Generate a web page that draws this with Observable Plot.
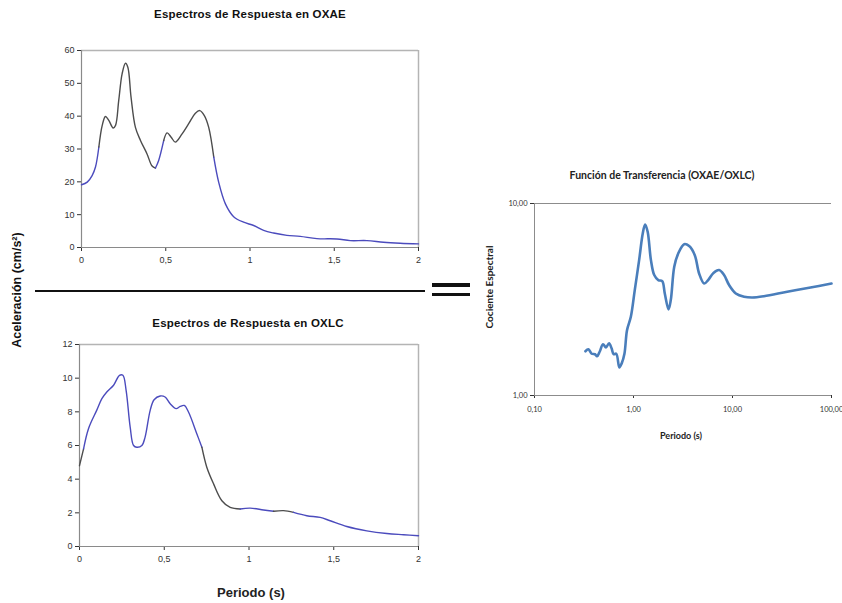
<!DOCTYPE html>
<html>
<head>
<meta charset="utf-8">
<script src="https://cdn.jsdelivr.net/npm/d3@7"></script>
<script src="https://cdn.jsdelivr.net/npm/@observablehq/plot@0.6"></script>
<style>
  html, body { margin: 0; padding: 0; background: #fff; }
  #page { position: relative; width: 842px; height: 603px; overflow: hidden; background: #fff; font-family: "Liberation Sans", Arial, sans-serif; }
  .abs { position: absolute; }
  .t12 { font-weight: bold; font-size: 11.5px; letter-spacing: 0.2px; color: #111; white-space: nowrap; transform: translateX(-50%); }
  .t3 { font-family: Lato, "Open Sans", sans-serif; font-weight: bold; font-size: 10.5px; color: #222; white-space: nowrap; transform: translateX(-50%); }
  .rot { white-space: nowrap; transform: translate(-50%, -50%) rotate(-90deg); }
  svg { overflow: visible; }
</style>
</head>
<body>
<div id="page"></div>
<script>
// ---------- data ----------
// Espectros de Respuesta en OXAE: periodo (s), aceleración (cm/s²)
const oxaePeriod = [0, 0.034, 0.063, 0.083, 0.103, 0.123, 0.142, 0.162, 0.188, 0.202, 0.221, 0.241, 0.261, 0.275, 0.294, 0.32, 0.35, 0.389, 0.419, 0.439, 0.458, 0.488, 0.508, 0.532, 0.557, 0.597, 0.636, 0.676, 0.702, 0.729, 0.755, 0.785, 0.814, 0.854, 0.903, 0.962, 1.022, 1.081, 1.14, 1.219, 1.298, 1.397, 1.516, 1.595, 1.694, 1.792, 1.891, 2.0];
const oxaeAccel  = [19.1, 19.9, 21.9, 24.5, 30.6, 37.2, 39.9, 38.7, 36.4, 37.2, 44.8, 52.9, 56.1, 54.9, 45.8, 36.6, 32.6, 28.5, 24.8, 24.2, 26.5, 32.6, 34.9, 33.6, 32.1, 34.6, 37.7, 40.9, 41.7, 40.2, 36.6, 27.5, 19.9, 13.3, 9.4, 7.7, 6.7, 5.2, 4.4, 3.7, 3.4, 2.7, 2.6, 2.1, 2.1, 1.6, 1.3, 1.1];

// Espectros de Respuesta en OXLC
const oxlcPeriod = [0, 0.024, 0.053, 0.102, 0.132, 0.161, 0.201, 0.236, 0.256, 0.275, 0.299, 0.319, 0.338, 0.368, 0.387, 0.417, 0.44, 0.476, 0.505, 0.535, 0.57, 0.594, 0.618, 0.643, 0.692, 0.722, 0.751, 0.791, 0.84, 0.889, 0.948, 1.007, 1.086, 1.145, 1.204, 1.263, 1.341, 1.42, 1.479, 1.577, 1.695, 1.813, 1.912, 2.0];
const oxlcAccel  = [4.8, 5.8, 7.0, 8.1, 8.78, 9.18, 9.58, 10.17, 10.17, 9.28, 7.09, 6.0, 5.9, 6.0, 6.5, 8.09, 8.72, 8.94, 8.88, 8.48, 8.19, 8.32, 8.38, 7.99, 6.7, 5.9, 4.71, 3.72, 2.72, 2.32, 2.23, 2.28, 2.17, 2.09, 2.13, 2.03, 1.83, 1.73, 1.53, 1.19, 0.93, 0.77, 0.7, 0.64];

// Función de Transferencia (OXAE/OXLC)
const tfPeriod = [0.327, 0.35, 0.378, 0.408, 0.428, 0.455, 0.492, 0.527, 0.566, 0.601, 0.63, 0.67, 0.72, 0.76, 0.81, 0.86, 0.94, 1.03, 1.14, 1.24, 1.31, 1.39, 1.5, 1.62, 1.78, 1.95, 2.07, 2.26, 2.38, 2.58, 2.83, 3.25, 3.65, 4.16, 4.6, 5.17, 5.67, 6.42, 7.32, 8.22, 9.24, 10.8, 13.1, 15.8, 20.8, 35.7, 61.4, 100];
const tfRatio  = [1.7, 1.74, 1.65, 1.64, 1.6, 1.69, 1.85, 1.78, 1.87, 1.76, 1.64, 1.65, 1.4, 1.47, 1.65, 2.19, 2.57, 3.54, 5.07, 6.98, 7.78, 7.12, 5.07, 4.24, 3.99, 3.94, 3.4, 2.81, 3.14, 4.68, 5.49, 6.14, 6.0, 5.38, 4.32, 3.83, 3.99, 4.35, 4.5, 4.24, 3.76, 3.4, 3.27, 3.24, 3.29, 3.47, 3.65, 3.83];

// tick values and labels
const spectrumXTicks = [0, 0.5, 1, 1.5, 2];
const oxaeYTicks = [0, 10, 20, 30, 40, 50, 60];
const oxlcYTicks = [0, 2, 4, 6, 8, 10, 12];
const tfXTicks = [0.1, 1, 10, 100];
const tfYTicks = [1, 10];

// ---------- helpers ----------
const page = document.getElementById("page");
function place(node, left, top) {
  node.style.position = "absolute";
  node.style.left = left + "px";
  node.style.top = top + "px";
  page.appendChild(node);
}
function addText(text, cls, left, top, extra) {
  const d = document.createElement("div");
  d.className = "abs " + cls;
  d.textContent = text;
  d.style.left = left + "px";
  d.style.top = top + "px";
  if (extra) Object.assign(d.style, extra);
  page.appendChild(d);
  return d;
}
const comma = d => String(d).replace(".", ",");
const comma2 = d => d3.format(".2f")(d).replace(".", ",");

const BLUE = "#4b4bbd", GREY = "#4d4d4d";
// scanned-line colouring (grey stretches of the original curves)
function tone(ranges) {
  return d => ranges.some(([a, b]) => d.x >= a && d.x < b) ? "g" : "b";
}

function spectrum(px, py, ticks, ymax, greyRanges, opts) {
  const data = px.map((x, i) => ({x, y: py[i]}));
  return Plot.plot({
    width: opts.width, height: opts.height,
    marginLeft: opts.ml, marginRight: opts.mr, marginTop: opts.mt, marginBottom: opts.mb,
    style: {fontFamily: "Liberation Sans, Arial, sans-serif", fontSize: "9px", color: "#333", background: "transparent"},
    x: {domain: [0, 2], ticks: spectrumXTicks, tickFormat: comma, tickSize: 4, tickPadding: 5, label: null},
    y: {domain: [0, ymax], ticks: ticks, tickFormat: comma, tickSize: 4, tickPadding: 3, label: null},
    color: {domain: ["b", "g"], range: [BLUE, GREY]},
    marks: [
      Plot.ruleY([ymax], {stroke: "#b4b4b4", strokeWidth: 1.5}),
      Plot.ruleX([2], {stroke: "#b4b4b4", strokeWidth: 1.5}),
      Plot.ruleY([0], {stroke: "#8a8a8a", strokeWidth: 1.2}),
      Plot.ruleX([0], {stroke: "#8a8a8a", strokeWidth: 1.2}),
      Plot.line(data, {x: "x", y: "y", z: null, stroke: tone(greyRanges), strokeWidth: 1.4, curve: "catmull-rom"})
    ]
  });
}

// ---------- chart 1 ----------
const c1 = spectrum(oxaePeriod, oxaeAccel, oxaeYTicks, 60, [[0.09, 0.42], [0.47, 0.78]],
  {width: 430, height: 275, ml: 81, mr: 12, mt: 50, mb: 28});
place(c1, 0, 0);
addText("Espectros de Respuesta en OXAE", "t12", 250, 8);

// ---------- chart 2 ----------
const c2 = spectrum(oxlcPeriod, oxlcAccel, oxlcYTicks, 12, [[0, 0.02], [0.72, 0.9], [1.12, 1.22]],
  {width: 430, height: 250, ml: 79, mr: 12, mt: 24, mb: 24});
place(c2, 0, 320);
addText("Espectros de Respuesta en OXLC", "t12", 248, 317);

// shared labels
addText("Periodo (s)", "", 251, 585, {fontSize: "13px", fontWeight: "bold", color: "#222", transform: "translateX(-50%)", whiteSpace: "nowrap"});
addText("Aceleración (cm/s²)", "rot", 17, 290, {fontSize: "12.5px", fontWeight: "bold", color: "#111"});

// divider and equals sign
addText("", "", 35, 289.5, {width: "390px", height: "2px", background: "#111"});
addText("", "", 432, 283, {width: "38px", height: "3.5px", background: "#111"});
addText("", "", 432, 292.5, {width: "38px", height: "3.5px", background: "#111"});

// ---------- chart 3 ----------
const tfData = tfPeriod.map((x, i) => ({x, y: tfRatio[i]}));
const c3 = Plot.plot({
  width: 372, height: 240,
  marginLeft: 64, marginRight: 11, marginTop: 23, marginBottom: 25,
  style: {fontFamily: "Lato, Open Sans, sans-serif", fontSize: "7.5px", color: "#333", background: "transparent"},
  x: {type: "log", domain: [0.1, 100], ticks: tfXTicks, tickFormat: comma2, tickSize: 3, tickPadding: 8, label: null},
  y: {type: "log", domain: [1, 10], ticks: tfYTicks, tickFormat: comma2, tickSize: 4, tickPadding: 3, label: null},
  marks: [
    Plot.ruleY([10], {stroke: "#8c8c8c", strokeWidth: 1}),
    Plot.ruleY([1], {stroke: "#8c8c8c", strokeWidth: 1}),
    Plot.ruleX([0.1], {stroke: "#8c8c8c", strokeWidth: 1}),
    Plot.line(tfData, {x: "x", y: "y", stroke: "#4a7ebb", strokeWidth: 2.6, curve: "catmull-rom"})
  ]
});
place(c3, 470, 180);
addText("Función de Transferencia (OXAE/OXLC)", "t3", 662, 169);
addText("Cociente Espectral", "rot", 489, 287, {fontFamily: "Lato, Open Sans, sans-serif", fontWeight: "bold", fontSize: "10px", color: "#222"});
addText("Periodo (s)", "t3", 681, 430, {fontSize: "9px"});
</script>
</body>
</html>
